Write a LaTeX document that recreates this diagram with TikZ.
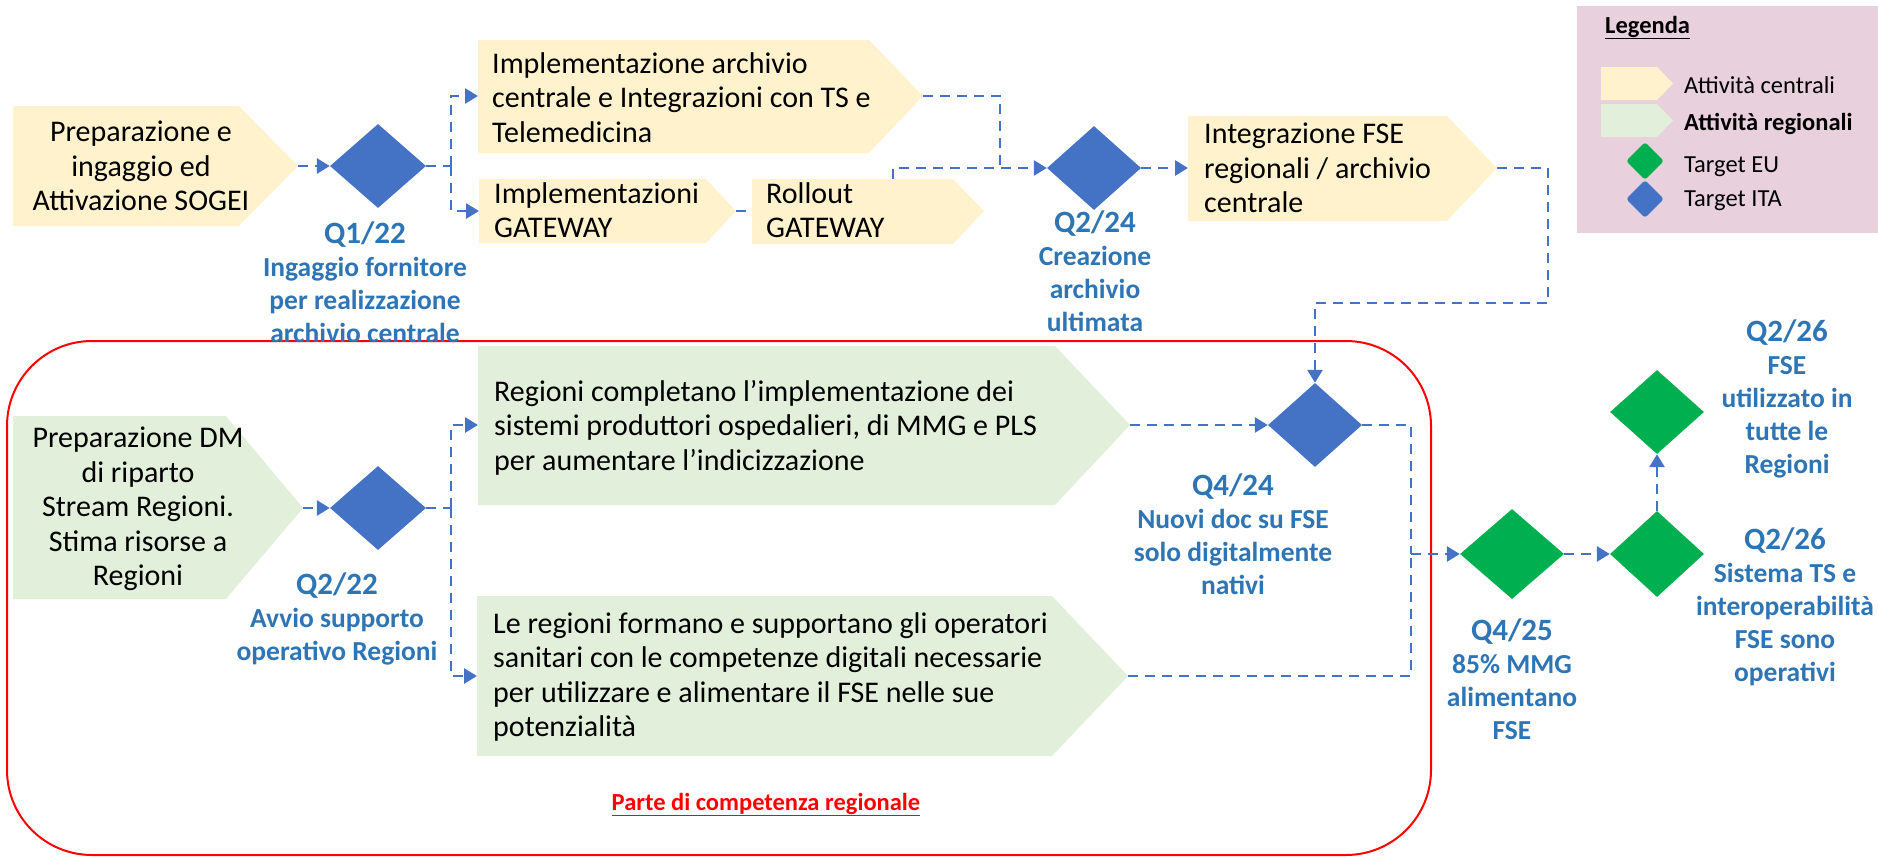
\documentclass[tikz,border=0pt]{standalone}
\usepackage{fontspec}
\setmainfont{Carlito}
\usetikzlibrary{arrows.meta,shapes.geometric}
\definecolor{centralfill}{HTML}{FFF2CC}
\definecolor{regionalfill}{HTML}{E2EFDA}
\definecolor{targetita}{HTML}{4472C4}
\definecolor{targeteu}{HTML}{00B050}
\definecolor{labelblue}{HTML}{2E75B6}
\definecolor{legendfill}{HTML}{E8D1DC}
\newcommand{\quarterfont}{\fontsize{31}{33}\selectfont}

\begin{document}
\begin{tikzpicture}[x=1pt,y=-1pt,line join=miter,>={Triangle[length=13pt,width=15pt]}]
\tikzset{
    flow/.style=      {draw=targetita, line width=2.75pt, dash pattern=on 10pt off 7pt},
    boxtext/.style=   {inner sep=0pt, font=\fontsize{30}{34.5}\selectfont, execute at begin node=\strut, execute at end node=\strut},
    ita/.style=       {diamond, fill=targetita, inner sep=0pt},
    eu/.style=        {diamond, fill=targeteu, inner sep=0pt},
    milestone/.style= {inner sep=0pt, align=center, anchor=north, text=labelblue, font=\fontsize{27.5}{33}\selectfont\bfseries, execute at begin node=\strut, execute at end node=\strut},
    legendtext/.style={inner sep=0pt, anchor=base west, font=\fontsize{24.5}{28}\selectfont}
}
\useasboundingbox (0,0) rectangle (1878,857);

%% Legend
\fill[legendfill] (1577,6) rectangle (1878,233);
\node[legendtext, font=\fontsize{24.5}{28}\selectfont\bfseries] (legenda) at (1605,33) {\underline{Legenda}};
\fill[centralfill] (1601,67) -- (1657,67) -- (1673,83.5) -- (1657,100) -- (1601,100) -- cycle;
\node[legendtext] (leg central) at (1684,93) {Attività centrali};
\fill[regionalfill] (1601,104) -- (1657,104) -- (1673,120.5) -- (1657,137) -- (1601,137) -- cycle;
\node[legendtext, font=\fontsize{24.5}{28}\selectfont\bfseries] (leg regional) at (1684,130) {Attività regionali};
\node[eu, minimum width=38pt, minimum height=38pt, rounded corners=3pt] (leg eu) at (1645,161) {};
\node[legendtext] (leg eu text) at (1684,172) {Target EU};
\node[ita, minimum width=38pt, minimum height=38pt, rounded corners=3pt] (leg ita) at (1645,199) {};
\node[legendtext] (leg ita text) at (1684,206) {Target ITA};

%% Regional frame
\draw[red, line width=2pt, rounded corners=85pt] (7,341) rectangle (1431,855);
\node[inner sep=0pt, anchor=base, text=red, font=\fontsize{24.5}{28}\selectfont\bfseries] (regionale) at (766,810) {\underline{Parte di competenza regionale}};

%% Central activities
\fill[centralfill] (13,106) -- (239,106) -- (298,166) -- (239,226) -- (13,226) -- cycle;
\coordinate (sogei tip) at (298,166);
\node[boxtext, align=center, anchor=north] (sogei) at (141,121) {Preparazione e\\ingaggio ed\\Attivazione SOGEI};

\fill[centralfill] (478,40) -- (869,40) -- (923,96) -- (869,153) -- (478,153) -- cycle;
\coordinate (archivio in) at (478,96);
\coordinate (archivio tip) at (923,96);
\node[boxtext, align=left, anchor=north west] (archivio) at (492,52) {Implementazione archivio\\centrale e Integrazioni con TS e\\Telemedicina};

\fill[centralfill] (479,179) -- (706,179) -- (736,211) -- (706,243) -- (479,243) -- cycle;
\coordinate (gateway in) at (479,211);
\coordinate (gateway tip) at (736,211);
\node[boxtext, align=left, anchor=north west] (gateway) at (494,182) {Implementazioni\\GATEWAY};

\fill[centralfill] (752,179) -- (953,179) -- (984,211) -- (953,244) -- (752,244) -- cycle;
\coordinate (rollout in) at (752,211);
\coordinate (rollout up) at (893,179);
\node[boxtext, align=left, anchor=north west] (rollout) at (766,182) {Rollout\\GATEWAY};

\fill[centralfill] (1188,116) -- (1447,116) -- (1497,168) -- (1447,221) -- (1188,221) -- cycle;
\coordinate (fseint in) at (1188,168);
\coordinate (fseint tip) at (1497,168);
\node[boxtext, align=left, anchor=north west] (fseint) at (1204,123) {Integrazione FSE\\regionali / archivio\\centrale};

%% Regional activities
\fill[regionalfill] (13,416) -- (226,416) -- (303,508) -- (226,599) -- (13,599) -- cycle;
\coordinate (dm tip) at (303,508);
\node[boxtext, align=center, anchor=north] (dm) at (138,427) {Preparazione DM\\di riparto\\Stream Regioni.\\Stima risorse a\\Regioni};

\fill[regionalfill] (478,346) -- (1055,346) -- (1130,425) -- (1055,505) -- (478,505) -- cycle;
\coordinate (completano in) at (478,425);
\coordinate (completano tip) at (1130,425);
\node[boxtext, align=left, anchor=north west] (completano) at (494,380) {Regioni completano l’implementazione dei\\sistemi produttori ospedalieri, di MMG e PLS\\per aumentare l’indicizzazione};

\fill[regionalfill] (477,596) -- (1052,596) -- (1128,676) -- (1052,756) -- (477,756) -- cycle;
\coordinate (formano in) at (477,676);
\coordinate (formano tip) at (1128,676);
\node[boxtext, align=left, anchor=north west] (formano) at (493,612) {Le regioni formano e supportano gli operatori\\sanitari con le competenze digitali necessarie\\per utilizzare e alimentare il FSE nelle sue\\potenzialità};

%% Targets
\node[ita, minimum width=96pt, minimum height=84pt] (q122) at (378,166) {};
\node[ita, minimum width=94pt, minimum height=84pt] (q224) at (1094,168) {};
\node[ita, minimum width=96pt, minimum height=84pt] (q222) at (378,508) {};
\node[ita, minimum width=94pt, minimum height=84pt] (q424) at (1315,425) {};
\node[eu, minimum width=104pt, minimum height=90pt] (q425) at (1512,554) {};
\node[eu, minimum width=94pt, minimum height=86pt] (q226ts) at (1657,554) {};
\node[eu, minimum width=94pt, minimum height=84pt] (q226fse) at (1657,412) {};

\node[milestone] (q122 text) at (365,222) {{\quarterfont Q1/22}\\Ingaggio fornitore\\per realizzazione\\archivio centrale};
\node[milestone] (q224 text) at (1095,211) {{\quarterfont Q2/24}\\Creazione\\archivio\\ultimata};
\node[milestone] (q222 text) at (337,573) {{\quarterfont Q2/22}\\Avvio supporto\\operativo Regioni};
\node[milestone] (q424 text) at (1233,474) {{\quarterfont Q4/24}\\Nuovi doc su FSE\\solo digitalmente\\nativi};
\node[milestone] (q425 text) at (1512,619) {{\quarterfont Q4/25}\\85\% MMG\\alimentano\\FSE};
\node[milestone] (q226ts text) at (1785,528) {{\quarterfont Q2/26}\\Sistema TS e\\interoperabilità\\FSE sono\\operativi};
\node[milestone] (q226fse text) at (1787,320) {{\quarterfont Q2/26}\\FSE\\utilizzato in\\tutte le\\Regioni};

%% Connectors
\coordinate (split q122) at (451,166);
\coordinate (split q222) at (451,508);
\coordinate (join q224) at (1000,168);
\coordinate (drop q424) at (1548,303);
\coordinate (bus) at (1411,554);

\draw[flow,->] (sogei tip) -- (q122.west);
\draw[flow] (q122.east) -- (split q122);
\draw[flow,->] (split q122) |- (archivio in);
\draw[flow,->] (split q122) |- (gateway in);
\draw[flow] (gateway tip) -- (rollout in);
\draw[flow] (archivio tip) -| (join q224);
\draw[flow,->] (rollout up) |- (q224.west);
\draw[flow,->] (q224.east) -- (fseint in);
\draw[flow,->] (fseint tip) -| (drop q424) -| (q424.north);

\draw[flow,->] (dm tip) -- (q222.west);
\draw[flow] (q222.east) -- (split q222);
\draw[flow,->] (split q222) |- (completano in);
\draw[flow,->] (split q222) |- (formano in);
\draw[flow,->] (completano tip) -- (q424.west);
\draw[flow] (q424.east) -| (bus);
\draw[flow] (formano tip) -| (bus);
\draw[flow,->] (bus) -- (q425.west);
\draw[flow,->] (q425.east) -- (q226ts.west);
\draw[flow,->] (q226ts.north) -- (q226fse.south);

\end{tikzpicture}
\end{document}
